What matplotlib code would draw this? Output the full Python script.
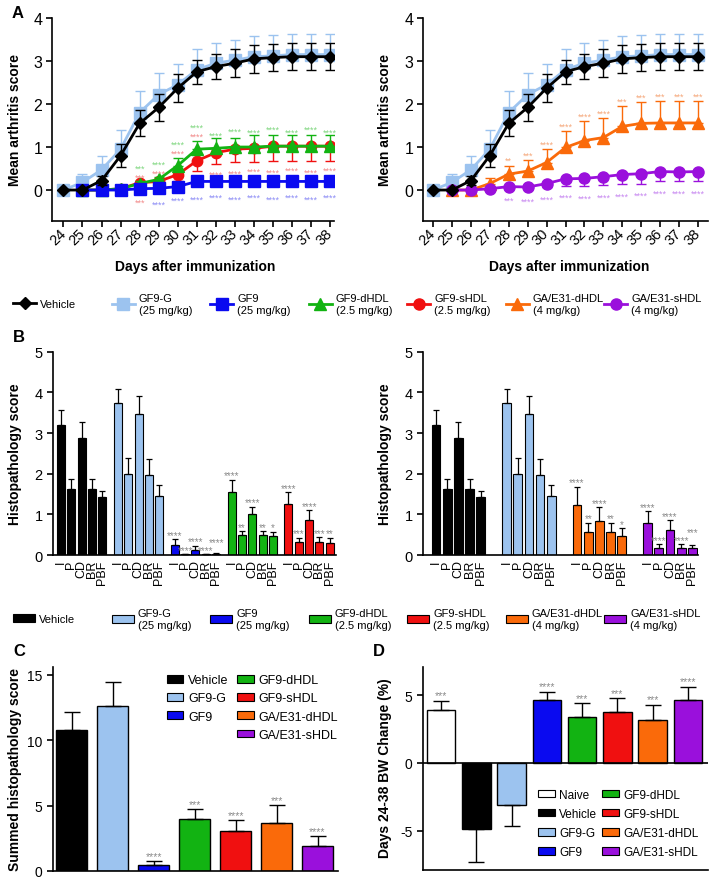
import numpy as np
import matplotlib
matplotlib.use('Agg')
import matplotlib.pyplot as plt
from matplotlib.lines import Line2D
from matplotlib.patches import Patch

plt.rcParams['font.family'] = ['Liberation Sans', 'DejaVu Sans']
plt.rcParams['axes.linewidth'] = 1.2
plt.rcParams['axes.unicode_minus'] = False
NARROW = ['Liberation Sans Narrow', 'Liberation Sans', 'DejaVu Sans']

# ================= Panel A data =================
days = [24, 25, 26, 27, 28, 29, 30, 31, 32, 33, 34, 35, 36, 37, 38]
days_tx = [25, 26, 27, 28, 29, 30, 31, 32, 33, 34, 35, 36, 37, 38]

vehicle_mean = [0, 0, 0.22, 0.80, 1.55, 1.92, 2.37, 2.75, 2.87, 2.95, 3.05, 3.08, 3.10, 3.10, 3.10]
vehicle_err = [0, 0, 0.10, 0.27, 0.30, 0.32, 0.32, 0.28, 0.29, 0.33, 0.32, 0.31, 0.32, 0.32, 0.32]
gf9g_mean = [0, 0.18, 0.47, 0.95, 1.80, 2.22, 2.45, 2.80, 2.95, 3.02, 3.10, 3.12, 3.15, 3.15, 3.15]
gf9g_err = [0, 0.19, 0.33, 0.45, 0.50, 0.50, 0.47, 0.47, 0.47, 0.46, 0.47, 0.48, 0.47, 0.47, 0.47]

gf9_mean = [0, 0, 0, 0.03, 0.04, 0.08, 0.20, 0.20, 0.20, 0.20, 0.20, 0.20, 0.20, 0.20]
gf9_err = [0, 0, 0, 0.03, 0.04, 0.06, 0.10, 0.10, 0.10, 0.10, 0.10, 0.10, 0.10, 0.10]
dhdl_mean = [0, 0, 0.03, 0.15, 0.25, 0.57, 0.95, 0.97, 1.00, 1.00, 1.02, 1.02, 1.02, 1.02]
dhdl_err = [0, 0, 0.03, 0.05, 0.05, 0.18, 0.20, 0.23, 0.22, 0.27, 0.25, 0.25, 0.25, 0.25]
shdl_mean = [0, 0, 0.03, 0.17, 0.20, 0.36, 0.68, 0.87, 0.95, 0.97, 1.02, 1.02, 1.02, 1.02]
shdl_err = [0, 0, 0.03, 0.06, 0.07, 0.15, 0.23, 0.27, 0.30, 0.31, 0.34, 0.34, 0.34, 0.34]
gad_mean = [0, 0, 0.15, 0.37, 0.44, 0.64, 0.99, 1.15, 1.22, 1.48, 1.55, 1.56, 1.56, 1.56]
gad_err = [0, 0, 0.12, 0.20, 0.26, 0.32, 0.39, 0.45, 0.45, 0.48, 0.49, 0.50, 0.50, 0.50]
gas_mean = [0, 0, 0.03, 0.08, 0.07, 0.15, 0.26, 0.27, 0.31, 0.36, 0.38, 0.43, 0.42, 0.43]
gas_err = [0, 0, 0.02, 0.05, 0.05, 0.08, 0.16, 0.18, 0.20, 0.22, 0.23, 0.22, 0.22, 0.22]

dhdl_stars_up = ['', '', '', '***', '****', '****', '****', '****', '****', '****', '****', '****', '****', '****']
shdl_stars_up = ['', '', '', '***', '****', '****', '****', '', '', '', '', '', '', '']
shdl_stars_dn = ['', '', '', '***', '', '', '', '****', '****', '****', '****', '****', '****', '****']
gf9_stars_dn = ['', '', '', '', '****', '****', '****', '****', '****', '****', '****', '****', '****', '****']
gad_stars_up = ['', '', '', '**', '***', '****', '****', '****', '****', '***', '***', '***', '***', '***']
gas_stars_dn = ['', '', '', '***', '****', '****', '****', '****', '****', '****', '****', '****', '****', '****']

# ================= Panel B data =================
hist_categories = ['I', 'P', 'CD', 'BR', 'PBF']
hist_vehicle = [3.20, 1.63, 2.87, 1.63, 1.42]
hist_vehicle_err = [0.37, 0.24, 0.41, 0.24, 0.15]
hist_gf9g = [3.73, 1.98, 3.47, 1.96, 1.46]
hist_gf9g_err = [0.36, 0.40, 0.45, 0.40, 0.27]
hist_gf9 = [0.25, 0.02, 0.12, 0.02, 0.03]
hist_gf9_err = [0.14, 0.0, 0.11, 0.0, 0.01]
hist_dhdl = [1.56, 0.49, 1.00, 0.49, 0.47]
hist_dhdl_err = [0.29, 0.09, 0.19, 0.09, 0.10]
hist_shdl = [1.25, 0.33, 0.87, 0.32, 0.30]
hist_shdl_err = [0.29, 0.10, 0.23, 0.12, 0.12]
hist_gad = [1.24, 0.56, 0.83, 0.56, 0.46]
hist_gad_err = [0.44, 0.23, 0.34, 0.23, 0.20]
hist_gas = [0.79, 0.17, 0.61, 0.17, 0.17]
hist_gas_err = [0.28, 0.10, 0.24, 0.10, 0.08]

hist_gf9_stars = ['****', '****', '****', '****', '****']
hist_dhdl_stars = ['****', '**', '****', '**', '*']
hist_shdl_stars = ['****', '***', '****', '***', '**']
hist_gad_stars = ['****', '**', '****', '**', '*']
hist_gas_stars = ['****', '****', '****', '****', '***']

# ================= Panel C data =================
groups_c = ['Vehicle', 'GF9-G', 'GF9', 'GF9-dHDL', 'GF9-sHDL', 'GA/E31-dHDL', 'GA/E31-sHDL']
summed_mean = [10.8, 12.65, 0.46, 3.98, 3.08, 3.64, 1.94]
summed_err = [1.38, 1.83, 0.33, 0.76, 0.85, 1.43, 0.76]
summed_stars = ['', '', '****', '***', '****', '***', '****']

# ================= Panel D data =================
groups_d = ['Naive', 'Vehicle', 'GF9-G', 'GF9', 'GF9-dHDL', 'GF9-sHDL', 'GA/E31-dHDL', 'GA/E31-sHDL']
bw_mean = [3.90, -4.85, -3.06, 4.63, 3.36, 3.77, 3.16, 4.63]
bw_err = [0.68, 2.41, 1.60, 0.61, 1.05, 1.01, 1.13, 0.98]
bw_stars = ['***', '', '', '****', '***', '***', '***', '****']

# ================= styles =================
COL = {'Naive': 'white', 'Vehicle': 'black', 'GF9-G': '#9cc3ef', 'GF9': '#0a0af0',
       'GF9-dHDL': '#12b312', 'GF9-sHDL': '#f01010', 'GA/E31-dHDL': '#fa6a0a',
       'GA/E31-sHDL': '#9a10dc'}
SCOL = {'GF9': '#8c8cf5', 'GF9-dHDL': '#7fd67f', 'GF9-sHDL': '#f28a8a',
        'GA/E31-dHDL': '#f5a77a', 'GA/E31-sHDL': '#c787f0'}
GRAY = '#8a8a8a'

W, H = 709, 879
fig = plt.figure(figsize=(W / 100, H / 100), dpi=100)


def add_ax(l, t, r, b):
    return fig.add_axes([l / W, 1 - b / H, (r - l) / W, (b - t) / H])


def star_text(ax, x, y, s, dy_pt, color, size):
    ax.annotate(s, (x, y), xytext=(0, dy_pt - 0.58 * size), textcoords='offset points',
                ha='center', va='baseline', fontsize=size, color=color,
                annotation_clip=False, zorder=10)


def series(ax, x, m, e, color, marker, ms, z, side):
    m = np.asarray(m, float)
    e = np.asarray(e, float)
    z0 = np.zeros_like(e)
    yerr = {'up': [z0, e], 'down': [e, z0], 'both': [e, e]}[side]
    ax.errorbar(x, m, yerr=yerr, color=color, marker=marker, ms=ms, mec=color, mfc=color,
                lw=2.0, elinewidth=1.0, capsize=3.5, capthick=1.0, zorder=z)


def style_A(ax, xlim):
    ax.set_xlim(xlim)
    ax.set_ylim(-0.72, 4)
    ax.set_xticks(days)
    ax.set_xticklabels([str(d) for d in days], rotation=45, ha='right', va='center',
                       rotation_mode='anchor', fontsize=10.5)
    ax.set_yticks([0, 1, 2, 3, 4])
    ax.tick_params(axis='y', labelsize=11.5)
    ax.tick_params(direction='out', length=4, width=1.2, pad=3)
    for s in ['top', 'right']:
        ax.spines[s].set_visible(False)


# ---------------- Panel A left ----------------
axA1 = add_ax(52, 19, 334, 222)
series(axA1, days, gf9g_mean, gf9g_err, COL['GF9-G'], 's', 8.5, 2, 'up')
series(axA1, days_tx, shdl_mean, shdl_err, COL['GF9-sHDL'], 'o', 7.5, 3, 'down')
series(axA1, days_tx, dhdl_mean, dhdl_err, COL['GF9-dHDL'], '^', 8, 4, 'up')
series(axA1, days_tx, gf9_mean, gf9_err, COL['GF9'], 's', 8.5, 5, 'both')
series(axA1, days, vehicle_mean, vehicle_err, COL['Vehicle'], 'D', 6.5, 6, 'both')
style_A(axA1, (23.4, 38.2))

for i, d in enumerate(days_tx):
    odd = d % 2
    up_d = dhdl_mean[i] + dhdl_err[i]
    if dhdl_stars_up[i]:
        off = 11.5 if shdl_stars_up[i] else 4.3 + 2.2 * odd
        star_text(axA1, d, up_d, dhdl_stars_up[i], off, SCOL['GF9-dHDL'], 6.5)
    if shdl_stars_up[i]:
        star_text(axA1, d, up_d, shdl_stars_up[i], 5.0, SCOL['GF9-sHDL'], 6.5)
    if shdl_stars_dn[i]:
        lo = shdl_mean[i] - shdl_err[i]
        off = -(5 + 1.3 * odd) if d >= 32 else -10
        star_text(axA1, d, lo, shdl_stars_dn[i], off, SCOL['GF9-sHDL'], 6.5)
    if gf9_stars_dn[i]:
        lo = gf9_mean[i] - gf9_err[i]
        star_text(axA1, d, lo, gf9_stars_dn[i], -(6.2 + 1.8 * odd), SCOL['GF9'], 6.5)

# ---------------- Panel A right ----------------
axA2 = add_ax(423, 19, 708, 222)
series(axA2, days, gf9g_mean, gf9g_err, COL['GF9-G'], 's', 8.5, 2, 'up')
series(axA2, days_tx, gad_mean, gad_err, COL['GA/E31-dHDL'], '^', 8, 3, 'up')
series(axA2, days_tx, gas_mean, gas_err, COL['GA/E31-sHDL'], 'o', 8, 4, 'down')
series(axA2, days, vehicle_mean, vehicle_err, COL['Vehicle'], 'D', 6.5, 6, 'both')
style_A(axA2, (23.47, 38.53))

for i, d in enumerate(days_tx):
    if gad_stars_up[i]:
        star_text(axA2, d, gad_mean[i] + gad_err[i], gad_stars_up[i], 5.5, SCOL['GA/E31-dHDL'], 6.5)
    if gas_stars_dn[i]:
        star_text(axA2, d, gas_mean[i] - gas_err[i], gas_stars_dn[i], -6.5, SCOL['GA/E31-sHDL'], 6.5)

for xc in (15, 385):
    fig.text(xc / W, 1 - 120 / H, 'Mean arthritis score', rotation=90, ha='center', va='center',
             fontsize=10, fontweight='bold')
fig.text(195 / W, 1 - 267 / H, 'Days after immunization', ha='center', va='center',
         fontsize=10, fontweight='bold')
fig.text(569 / W, 1 - 267 / H, 'Days after immunization', ha='center', va='center',
         fontsize=10, fontweight='bold')

# legend A
legA = [('Vehicle', 'Vehicle', 'D', 6.5),
        ('GF9-G\n(25 mg/kg)', 'GF9-G', 's', 8.5),
        ('GF9\n(25 mg/kg)', 'GF9', 's', 8.5),
        ('GF9-dHDL\n(2.5 mg/kg)', 'GF9-dHDL', '^', 8),
        ('GF9-sHDL\n(2.5 mg/kg)', 'GF9-sHDL', 'o', 8),
        ('GA/E31-dHDL\n(4 mg/kg)', 'GA/E31-dHDL', '^', 8),
        ('GA/E31-sHDL\n(4 mg/kg)', 'GA/E31-sHDL', 'o', 8)]
for i, (lab, key, mk, ms) in enumerate(legA):
    h = Line2D([], [], color=COL[key], marker=mk, ms=ms, lw=2)
    fig.legend([h], [lab], loc='center left', bbox_to_anchor=((13 + 98.5 * i) / W, 1 - 305 / H),
               frameon=False, prop={'family': NARROW, 'size': 8}, handlelength=2.1,
               handletextpad=0.35, borderpad=0, borderaxespad=0)

# ---------------- Panel B ----------------
def hist_panel(ax, groups, pitch, xlim):
    xs_all, labs = [], []
    for gi, (vals, errs, key, stars) in enumerate(groups):
        x = gi * pitch + np.arange(len(hist_categories))
        ax.bar(x, vals, 0.78, color=COL[key], edgecolor='black', lw=0.8,
               yerr=[np.zeros(len(errs)), errs], capsize=2.3,
               error_kw=dict(elinewidth=0.9, capthick=0.9, ecolor='black'), zorder=2)
        xs_all += list(x)
        labs += hist_categories
    ax.set_xlim(xlim)
    ax.set_ylim(0, 5)
    ax.set_xticks(xs_all)
    ax.set_xticklabels(labs, rotation=90, fontsize=9, family=NARROW)
    ax.set_yticks([0, 1, 2, 3, 4, 5])
    ax.set_yticklabels(['0', '1', '2', '3', '4', '5'], fontsize=10.5, family=NARROW)
    ax.tick_params(axis='x', length=0, pad=3)
    ax.tick_params(axis='y', direction='out', length=4, width=1.2)
    for s in ['top', 'right']:
        ax.spines[s].set_visible(False)
    # stars with simple collision avoidance
    for gi, (vals, errs, key, stars) in enumerate(groups):
        if stars is None:
            continue
        x = gi * pitch + np.arange(len(hist_categories))
        placed = []
        size = 7
        cw = 0.39 * size * 100 / 72
        for xi, v, e, s in zip(x, vals, errs, stars):
            if not s:
                continue
            dx, dy = ax.transData.transform((xi, v + e))
            y = dy + 7
            w = len(s) * cw
            moved = True
            while moved:
                moved = False
                for (px, py, pw) in placed:
                    if abs(px - dx) < (w + pw) / 2 and abs(py - y) < 6:
                        y = py + 8
                        moved = True
            placed.append((dx, y, w))
            xd, yd = ax.transData.inverted().transform((dx, y))
            star_text(ax, xd, yd, s, 0, GRAY, size)


axB1 = add_ax(53, 352.7, 336, 556)
hist_panel(axB1, [(hist_vehicle, hist_vehicle_err, 'Vehicle', None),
                  (hist_gf9g, hist_gf9g_err, 'GF9-G', None),
                  (hist_gf9, hist_gf9_err, 'GF9', hist_gf9_stars),
                  (hist_dhdl, hist_dhdl_err, 'GF9-dHDL', hist_dhdl_stars),
                  (hist_shdl, hist_shdl_err, 'GF9-sHDL', hist_shdl_stars)], 5.5, (-0.78, 26.6))

axB2 = add_ax(423, 352.7, 698, 556)
hist_panel(axB2, [(hist_vehicle, hist_vehicle_err, 'Vehicle', None),
                  (hist_gf9g, hist_gf9g_err, 'GF9-G', None),
                  (hist_gad, hist_gad_err, 'GA/E31-dHDL', hist_gad_stars),
                  (hist_gas, hist_gas_err, 'GA/E31-sHDL', hist_gas_stars)], 6.3, (-1.16, 23.4))

for xc in (15, 385):
    fig.text(xc / W, 1 - 454 / H, 'Histopathology score', rotation=90, ha='center', va='center',
             fontsize=10, fontweight='bold')

legB = ['Vehicle', 'GF9-G\n(25 mg/kg)', 'GF9\n(25 mg/kg)', 'GF9-dHDL\n(2.5 mg/kg)',
        'GF9-sHDL\n(2.5 mg/kg)', 'GA/E31-dHDL\n(4 mg/kg)', 'GA/E31-sHDL\n(4 mg/kg)']
legB_keys = ['Vehicle', 'GF9-G', 'GF9', 'GF9-dHDL', 'GF9-sHDL', 'GA/E31-dHDL', 'GA/E31-sHDL']
for i, (lab, key) in enumerate(zip(legB, legB_keys)):
    h = Patch(facecolor=COL[key], edgecolor='black', lw=0.8)
    fig.legend([h], [lab], loc='center left', bbox_to_anchor=((13 + 98.5 * i) / W, 1 - 620 / H),
               frameon=False, prop={'family': NARROW, 'size': 8}, handlelength=2.0,
               handleheight=0.8, handletextpad=0.35, borderpad=0, borderaxespad=0)

# ---------------- Panel C ----------------
axC = add_ax(53, 668, 338, 872)
xc_pos = np.arange(len(groups_c))
axC.bar(xc_pos, summed_mean, 0.76, color=[COL[g] for g in groups_c], edgecolor='black', lw=1.0,
        yerr=[np.zeros(len(summed_err)), summed_err], capsize=5.5,
        error_kw=dict(elinewidth=1.0, capthick=1.0, ecolor='black'), label=None)
axC.set_xlim(-0.46, 6.5)
axC.set_ylim(0, 15.6)
axC.set_xticks([])
axC.set_yticks([0, 5, 10, 15])
axC.tick_params(axis='y', labelsize=10, direction='out', length=4, width=1.2)
for s in ['top', 'right']:
    axC.spines[s].set_visible(False)
for x, m, e, s in zip(xc_pos, summed_mean, summed_err, summed_stars):
    if s:
        star_text(axC, x, m + e, s, 5.5, GRAY, 7.5)
hc = [Patch(facecolor=COL[g], edgecolor='black', lw=0.8) for g in groups_c]
blank = Patch(facecolor='none', edgecolor='none')
axC.legend(hc[:3] + [blank] + hc[3:], groups_c[:3] + [''] + groups_c[3:], ncol=2,
           loc='upper left', bbox_to_anchor=(0.40, 0.965), frameon=False, fontsize=9,
           handlelength=1.3, handleheight=0.6, handletextpad=0.4, labelspacing=0.5,
           columnspacing=0.7, borderpad=0, borderaxespad=0)
fig.text(15 / W, 1 - 770 / H, 'Summed histopathology score', rotation=90, ha='center',
         va='center', fontsize=10, fontweight='bold')

# ---------------- Panel D ----------------
axD = add_ax(423, 668, 708, 871)
xd_pos = np.arange(len(groups_d))
bw = np.asarray(bw_mean)
be = np.asarray(bw_err)
err_lo = np.where(bw < 0, be, 0)
err_hi = np.where(bw >= 0, be, 0)
axD.bar(xd_pos, bw, 0.81, color=[COL[g] for g in groups_d], edgecolor='black', lw=1.0,
        yerr=[err_lo, err_hi], capsize=5.5,
        error_kw=dict(elinewidth=1.0, capthick=1.0, ecolor='black'))
axD.axhline(0, color='black', lw=1.2, zorder=3)
axD.set_xlim(-0.51, 7.57)
axD.set_ylim(-7.87, 7.06)
axD.set_xticks([])
axD.set_yticks([-5, 0, 5])
axD.tick_params(axis='y', labelsize=10, direction='out', length=4, width=1.2)
for s in ['top', 'right']:
    axD.spines[s].set_visible(False)
for x, m, e, s in zip(xd_pos, bw_mean, bw_err, bw_stars):
    if s:
        star_text(axD, x, m + e, s, 6, GRAY, 7.5)
hd = [Patch(facecolor=COL[g], edgecolor='black', lw=0.8) for g in groups_d]
axD.legend(hd, groups_d, ncol=2, loc='upper left', bbox_to_anchor=(0.405, 0.40), frameon=False,
           fontsize=8.5, handlelength=1.4, handleheight=0.6, handletextpad=0.35, labelspacing=0.6,
           columnspacing=0.45, borderpad=0, borderaxespad=0)
fig.text(385 / W, 1 - 768 / H, 'Days 24-38 BW Change (%)', rotation=90, ha='center',
         va='center', fontsize=10, fontweight='bold')

# panel letters
for lab, x, y in [('A', 18, 13), ('B', 19, 338), ('C', 19, 652), ('D', 379, 652)]:
    fig.text(x / W, 1 - y / H, lab, ha='center', va='center', fontsize=12, fontweight='bold')

fig.savefig('out.png', dpi=100)
